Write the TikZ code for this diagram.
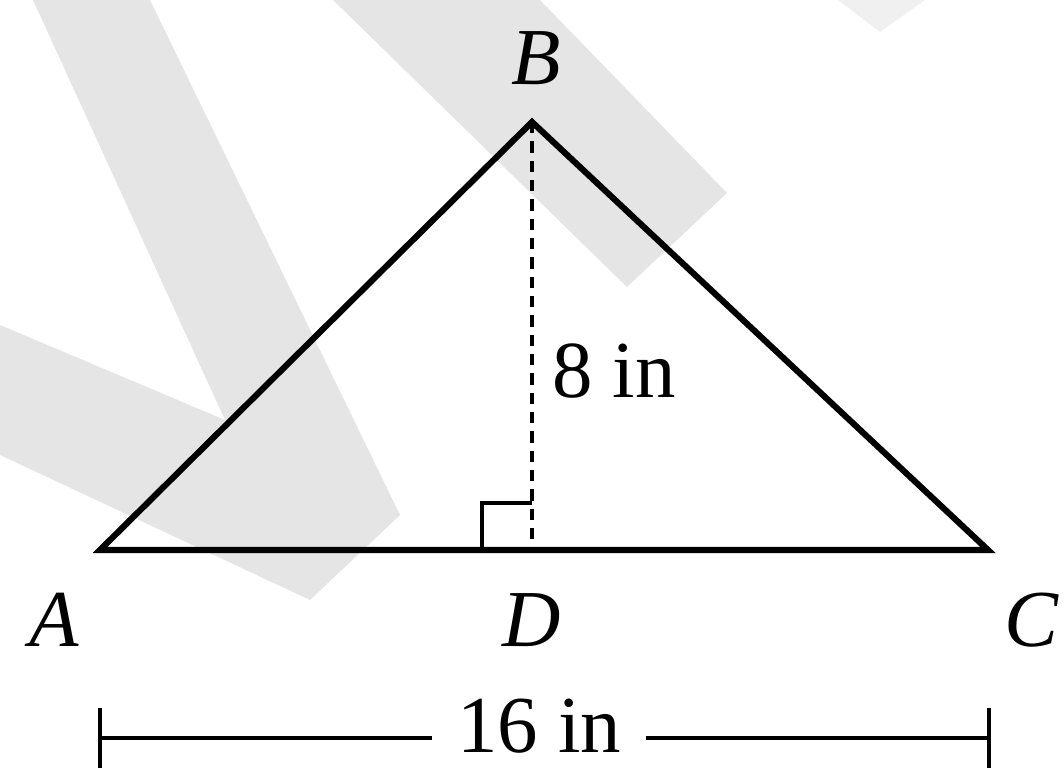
\documentclass[tikz,border=0pt]{standalone}
\usepackage{fontspec}
\setmainfont{Liberation Serif}
\begin{document}
\begin{tikzpicture}[
    side/.style={line width=3.5pt, line join=miter},
    altitude/.style={line width=2pt, dash pattern=on 6.5pt off 4.5pt},
    rightangle/.style={line width=2.5pt},
    dimline/.style={line width=2pt},
    vertex/.style={font=\fontsize{46}{55}\selectfont\itshape, inner sep=0pt, anchor=base},
    measure/.style={font=\fontsize{46}{55}\selectfont, inner sep=0pt},
    band/.style={fill=gray!20, draw=none}
]
    \useasboundingbox (0,0) rectangle (21.28,15.36);

    % watermark bands
    \fill[band] (0.66,15.36) -- (3.0,15.36) -- (8.0,5.06) -- (6.2,3.36)
        -- (0,6.26) -- (0,8.86) -- (4.5,6.96) -- cycle;
    \fill[band] (6.66,15.36) -- (10.8,15.36) -- (14.54,11.5) -- (12.54,9.62) -- cycle;
    \fill[gray!12] (16.76,15.36) -- (18.5,15.36) -- (17.6,14.72) -- cycle;

    % triangle
    \coordinate (A) at (2.0,4.36);
    \coordinate (B) at (10.64,12.92);
    \coordinate (C) at (19.76,4.36);
    \coordinate (D) at (10.64,4.36);

    \draw[side] (A) -- (B) -- (C) -- cycle;
    \draw[altitude] (B) -- (D);
    \draw[rightangle] ([xshift=-1cm]D) -- ++(0,0.94) -- ++(1,0);

    \node[vertex] (lA) at (1.08,2.42) {A};
    \node[vertex] (lB) at (10.72,13.66) {B};
    \node[vertex] (lC) at (20.62,2.42) {C};
    \node[vertex] (lD) at (10.64,2.42) {D};

    \node[measure, anchor=base west] (h) at (11.04,7.40) {8 in};

    % base length
    \coordinate (L) at (2.0,0.6);
    \coordinate (R) at (19.78,0.6);
    \node[measure, anchor=base, inner xsep=14pt] (len) at (10.78,0.32) {16 in};

    \draw[dimline] (L) -- (L -| len.west);
    \draw[dimline] (len.east |- R) -- (R);
    \draw[dimline] ([yshift=0.6cm]L) -- ([yshift=-0.6cm]L);
    \draw[dimline] ([yshift=0.6cm]R) -- ([yshift=-0.6cm]R);

\end{tikzpicture}
\end{document}
